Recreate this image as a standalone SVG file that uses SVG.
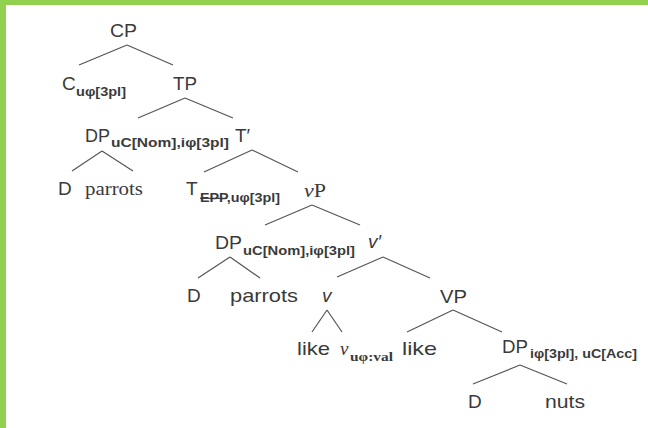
<svg xmlns="http://www.w3.org/2000/svg" width="648" height="428" viewBox="0 0 648 428">
<style>
.t{font-family:"Liberation Sans",Arial,sans-serif;font-size:19px;fill:#3a3a3a}
.s{font-family:"Liberation Sans",Arial,sans-serif;font-size:12px;font-weight:bold;fill:#3a3a3a}
.sr{font-family:"Liberation Serif","Times New Roman",serif;font-size:19px;fill:#3a3a3a}
.it{font-style:italic}
.e line{stroke:#555;stroke-width:1.2}
</style>
<rect x="0" y="0" width="648" height="428" fill="#fff"/>
<rect x="0" y="0" width="648" height="5" fill="#92d050"/>
<rect x="0" y="0" width="6" height="428" fill="#92d050"/>
<g id="edges" class="e">
<line x1="127" y1="45" x2="79" y2="65"/><line x1="127" y1="45" x2="173" y2="65"/>
<line x1="185" y1="98" x2="138" y2="118"/><line x1="185" y1="98" x2="233" y2="118"/>
<line x1="102" y1="151" x2="72" y2="171"/><line x1="102" y1="151" x2="133" y2="171"/>
<line x1="252" y1="150" x2="204" y2="172"/><line x1="252" y1="150" x2="298" y2="172"/>
<line x1="312" y1="205" x2="265" y2="225"/><line x1="312" y1="205" x2="360" y2="225"/>
<line x1="230" y1="257" x2="198" y2="278"/><line x1="230" y1="257" x2="260" y2="278"/>
<line x1="383" y1="257" x2="337" y2="277"/><line x1="383" y1="257" x2="430" y2="278"/>
<line x1="327" y1="310" x2="312" y2="332"/><line x1="327" y1="310" x2="342" y2="332"/>
<line x1="453" y1="310" x2="407" y2="332"/><line x1="453" y1="310" x2="502" y2="332"/>
<line x1="520" y1="365" x2="473" y2="384"/><line x1="520" y1="365" x2="567" y2="384"/>
</g>
<g id="CP"><text class="t" x="110" y="37" textLength="27" lengthAdjust="spacingAndGlyphs">CP</text></g>
<g id="C"><text class="t" x="62" y="90">C</text><text class="s" x="76" y="96" textLength="50" lengthAdjust="spacingAndGlyphs">uφ[3pl]</text></g>
<g id="TP"><text class="t" x="173" y="90" textLength="24" lengthAdjust="spacingAndGlyphs">TP</text></g>
<g id="DP1"><text class="t" x="85" y="142" textLength="25" lengthAdjust="spacingAndGlyphs">DP</text><text class="s" x="111" y="147" textLength="118" lengthAdjust="spacingAndGlyphs">uC[Nom],iφ[3pl]</text></g>
<g id="Tbar"><text class="t" x="235" y="142">T′</text></g>
<g id="D1"><text class="t" x="58" y="195">D</text></g>
<g id="parrots1"><text class="sr" x="85" y="195" textLength="58" lengthAdjust="spacingAndGlyphs">parrots</text></g>
<g id="T"><text class="t" x="186" y="195">T</text><text class="s" x="200" y="202" textLength="80" lengthAdjust="spacingAndGlyphs"><tspan text-decoration="line-through">EPP</tspan>,uφ[3pl]</text></g>
<g id="vP"><text class="sr" x="304" y="197" textLength="22" lengthAdjust="spacingAndGlyphs"><tspan class="it">v</tspan>P</text></g>
<g id="DP2"><text class="t" x="215" y="249" textLength="27" lengthAdjust="spacingAndGlyphs">DP</text><text class="s" x="243" y="255" textLength="112" lengthAdjust="spacingAndGlyphs">uC[Nom],iφ[3pl]</text></g>
<g id="vbar"><text class="t it" x="368" y="248">v′</text></g>
<g id="D2"><text class="t" x="187" y="302">D</text></g>
<g id="parrots2"><text class="t" x="230" y="302" textLength="68" lengthAdjust="spacingAndGlyphs">parrots</text></g>
<g id="v"><text class="t it" x="322" y="302">v</text></g>
<g id="VP"><text class="t" x="440" y="303" textLength="27" lengthAdjust="spacingAndGlyphs">VP</text></g>
<g id="like1"><text class="t" x="297" y="355" textLength="33" lengthAdjust="spacingAndGlyphs">like</text></g>
<g id="vval"><text class="sr it" x="340" y="355">v</text><text class="s" x="350" y="361" textLength="43" lengthAdjust="spacingAndGlyphs" style="font-family:'Liberation Serif',serif">uφ:val</text></g>
<g id="like2"><text class="t" x="402" y="355" textLength="35" lengthAdjust="spacingAndGlyphs">like</text></g>
<g id="DP3"><text class="t" x="502" y="353" textLength="26" lengthAdjust="spacingAndGlyphs">DP</text><text class="s" x="530" y="358" textLength="107" lengthAdjust="spacingAndGlyphs">iφ[3pl], uC[Acc]</text></g>
<g id="D3"><text class="t" x="468" y="408">D</text></g>
<g id="nuts"><text class="t" x="545" y="408" textLength="40" lengthAdjust="spacingAndGlyphs">nuts</text></g>
</svg>
